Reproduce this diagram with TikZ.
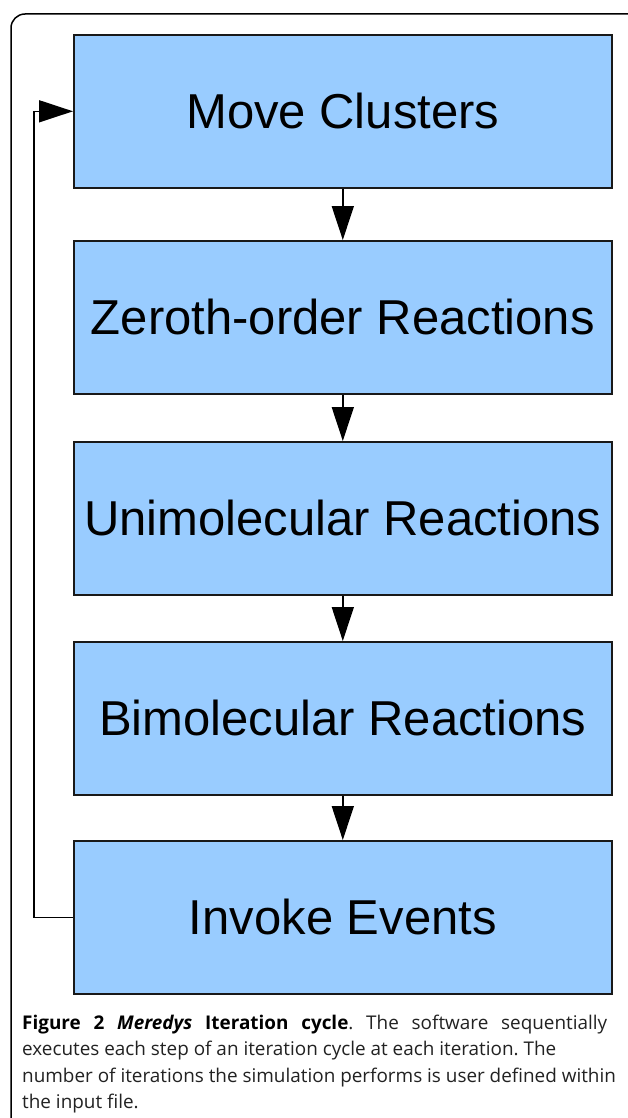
\documentclass[tikz,border=0pt]{standalone}
\usepackage{fontspec}
\setmainfont{Liberation Sans}
\newfontfamily\capfont{Open Sans}
\usetikzlibrary{arrows.meta}
\definecolor{stepfill}{HTML}{99CCFF}
\definecolor{captext}{HTML}{222222}
\frenchspacing

\begin{document}
\begin{tikzpicture}[x=1pt,y=-1pt,
  stepbox/.style={draw=black!90, line width=1.6pt, fill=stepfill,
    minimum width=538pt, minimum height=153pt, inner sep=0pt,
    anchor=north west, font=\fontsize{49}{49}\selectfont},
  flow/.style={line width=1.5pt, -{Triangle[length=34pt,width=22pt]}},
  capline/.style={anchor=base west, inner sep=0pt, text=captext,
    font=\capfont\fontsize{18.9}{26}\selectfont}]
\useasboundingbox (0,0) rectangle (628,1118);
\clip (0,0) rectangle (628,1118);
\fill[white] (0,0) rectangle (628,1118);

% outer frame, open to the right and below
\draw[line width=1.5pt, rounded corners=14pt] (11,1140) -- (11,14) -- (660,14);

% steps of the cycle
\node[stepbox] (move) at (73,34)  {Move Clusters};
\node[stepbox] (zero) at (73,240) {Zeroth-order Reactions};
\node[stepbox] (uni)  at (73,441) {Unimolecular Reactions};
\node[stepbox] (bi)   at (73,641) {Bimolecular Reactions};
\node[stepbox] (inv)  at (73,840) {Invoke Events};

% sequence
\draw[flow] (move) -- (zero);
\draw[flow] (zero) -- (uni);
\draw[flow] (uni) -- (bi);
\draw[flow] (bi) -- (inv);

% loop back to the first step
\coordinate (lb) at (34,0);
\draw[flow] (inv.west) -- (inv.west -| lb) -- (move.west -| lb) -- (move.west);

% caption
\node[capline] (c1) at (22,1029) {\makebox[585pt][s]{\textcolor{black}{\textbf{Figure 2 \textit{Meredys} Iteration cycle}}. The software sequentially}};
\node[capline] (c2) at (22,1055) {executes each step of an iteration cycle at each iteration. The};
\node[capline] (c3) at (22,1082) {number of iterations the simulation performs is user defined within};
\node[capline] (c4) at (22,1108) {the input file.};
\end{tikzpicture}
\end{document}
